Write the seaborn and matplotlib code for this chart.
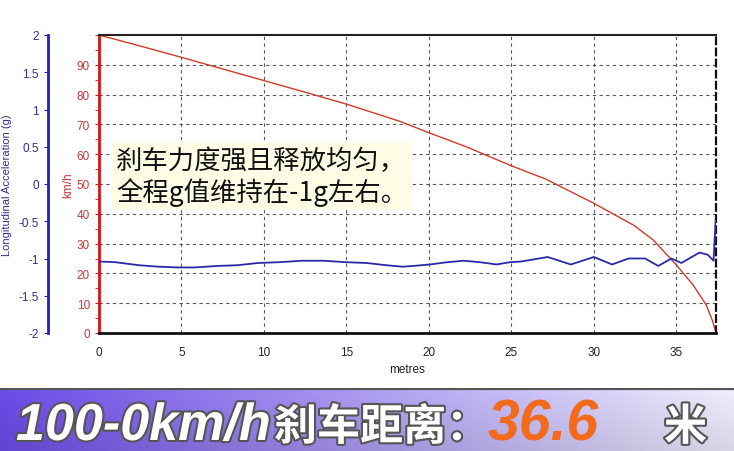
import numpy as np
import matplotlib
matplotlib.use("Agg")
import matplotlib.pyplot as plt
import matplotlib.patheffects as pe
from matplotlib.ticker import MultipleLocator, FuncFormatter
import seaborn as sns

# speed trace (km/h vs metres)
speed_m = [0, 2.5, 5, 7.5, 10, 12.5, 15, 18.2, 20, 22.3, 25, 27.1, 30, 32.4, 33.6, 35, 36.0, 36.8, 37.2, 37.4]
speed_kmh = [100, 96.3, 92.5, 88.6, 84.7, 80.8, 76.8, 71.1, 67.2, 62.4, 56.1, 51.6, 43.5, 36.2, 31.2, 22.8, 16.2, 9.5, 3.9, 0]

# longitudinal acceleration (g vs metres)
acc_m = [0, 1.0, 2.4, 3.6, 4.8, 5.8, 7.2, 8.4, 9.65, 10.9, 12.3, 13.6, 15.0, 16.2, 17.4, 18.4,
         19.05, 20.06, 21.1, 22.1, 23.1, 24.1, 24.9, 25.6, 27.2, 28.6, 30.0, 31.1, 32.1, 33.1,
         33.9, 34.7, 35.3, 36.4, 36.9, 37.25, 37.38]
acc_g = [-1.04, -1.05, -1.09, -1.11, -1.12, -1.12, -1.10, -1.09, -1.06, -1.05, -1.03, -1.03, -1.05,
         -1.06, -1.09, -1.11, -1.10, -1.08, -1.05, -1.03, -1.05, -1.08, -1.05, -1.04, -0.98, -1.08,
         -0.98, -1.08, -1.00, -1.00, -1.10, -1.00, -1.06, -0.92, -0.95, -1.03, -0.48]

kmh_ticks = [0, 10, 20, 30, 40, 50, 60, 70, 80, 90]
g_ticks = [-2, -1.5, -1, -0.5, 0, 0.5, 1, 1.5, 2]

title_num = "100-0km/h"
title_cjk = "刹车距离："
title_value = "36.6"
title_unit = "米"
note = "刹车力度强且释放均匀，\n全程g值维持在-1g左右。"

sns.set_style("white")
plt.rcParams['font.family'] = ['Liberation Sans', 'Noto Sans CJK SC', 'DejaVu Sans']

W, H = 734, 452
fig = plt.figure(figsize=(W / 100, H / 100), dpi=100)

red = "#e01010"
red_txt = "#c03a3a"
blue = "#2a2aa8"
blue_txt = "#30308a"

ax = fig.add_axes([99 / W, 1 - 334 / H, (716 - 99) / W, (334 - 36) / H])
sns.lineplot(x=speed_m, y=speed_kmh, ax=ax, color="#d03a2a", linewidth=1.0, estimator=None, sort=False)
ax.set_xlim(0, 37.4)
ax.set_ylim(0, 100)
ax.set_yticks(kmh_ticks)
ax.xaxis.set_major_locator(MultipleLocator(5))
ax.xaxis.set_minor_locator(MultipleLocator(1.25))
ax.yaxis.set_minor_locator(MultipleLocator(5))
ax.grid(True, which="major", linestyle=(0, (3, 3)), color="#555555", linewidth=0.8)
ax.tick_params(axis="x", which="both", direction="out", length=3, colors="#222222", labelsize=8.5, pad=6)
ax.tick_params(axis="x", which="minor", length=2)
ax.tick_params(axis="y", which="both", direction="out", length=3, colors=red, labelcolor=red_txt, labelsize=8.5)
ax.set_xlabel("metres", fontsize=8.5, color="#222222", labelpad=4)
ax.set_ylabel("km/h", fontsize=8.5, color=red_txt, labelpad=2)
ax.spines["left"].set_color(red)
ax.spines["left"].set_linewidth(2)
ax.spines["bottom"].set_color("#111111")
ax.spines["bottom"].set_linewidth(2)
ax.spines["top"].set_color("#222222")
ax.spines["top"].set_linewidth(1.5)
ax.spines["right"].set_color("#111111")
ax.spines["right"].set_linewidth(1.6)
ax.spines["right"].set_linestyle((0, (3, 2)))

ax2 = ax.twinx()
sns.lineplot(x=acc_m, y=acc_g, ax=ax2, color=blue, linewidth=1.3, estimator=None, sort=False)
ax2.set_ylim(-2, 2)
ax2.set_yticks(g_ticks)
ax2.yaxis.set_major_formatter(FuncFormatter(lambda v, p: f"{v:g}"))
ax2.yaxis.set_ticks_position("left")
ax2.yaxis.set_label_position("left")
ax2.spines["left"].set_visible(True)
ax2.spines["left"].set_position(("axes", -51 / 617))
ax2.spines["left"].set_color("#2020c0")
ax2.spines["left"].set_linewidth(2)
for s in ["right", "top", "bottom"]:
    ax2.spines[s].set_visible(False)
ax2.tick_params(axis="y", direction="out", length=3, colors="#2020c0", labelcolor=blue_txt, labelsize=8.5)
ax2.set_ylabel("Longitudinal Acceleration (g)", fontsize=8, color=blue_txt, labelpad=5)

ax.text(0.028, 0.525, note, transform=ax.transAxes, fontsize=19, linespacing=1.12,
        family=['Noto Sans CJK SC', 'DejaVu Sans'], color="#111111", va="center", ha="left",
        bbox=dict(facecolor="#fdfde6", edgecolor="none", pad=3), zorder=5)

# bottom banner with gradient
bax = fig.add_axes([0, 0, 1, 63 / H])
grad = np.linspace(0, 1, 256)
c0 = np.array([108, 76, 232]) / 255
c1 = np.array([240, 238, 252]) / 255
img = c0[None, None, :] * (1 - grad[None, :, None]) + c1[None, None, :] * grad[None, :, None]
vert = np.linspace(1.0, 0.9, 20)[:, None, None]
img = np.clip(img * vert, 0, 1)
bax.imshow(img, aspect="auto", extent=[0, 1, 0, 1], origin="upper")
bax.axhline(1, color="#555555", linewidth=3)
bax.set_xlim(0, 1)
bax.set_ylim(0, 1)
bax.axis("off")

effects = [pe.withStroke(linewidth=3, foreground="#555555")]
ty = 11 / H
fig.text(16 / W, ty, title_num, fontsize=37.5, weight="bold", style="italic", color="white",
         va="baseline", ha="left", path_effects=effects, family=['Liberation Sans'])
fig.text(274 / W, ty, title_cjk, fontsize=31, weight="black", color="white",
         va="baseline", ha="left", path_effects=effects, family=['Noto Sans CJK SC'])
fig.text(488 / W, ty, title_value, fontsize=41, weight="bold", style="italic", color="#f36a1c",
         va="baseline", ha="left", family=['Liberation Sans'])
fig.text(664 / W, ty, title_unit, fontsize=31, weight="black", color="white",
         va="baseline", ha="left", path_effects=effects, family=['Noto Sans CJK SC'])

fig.savefig("out.png", dpi=100)
